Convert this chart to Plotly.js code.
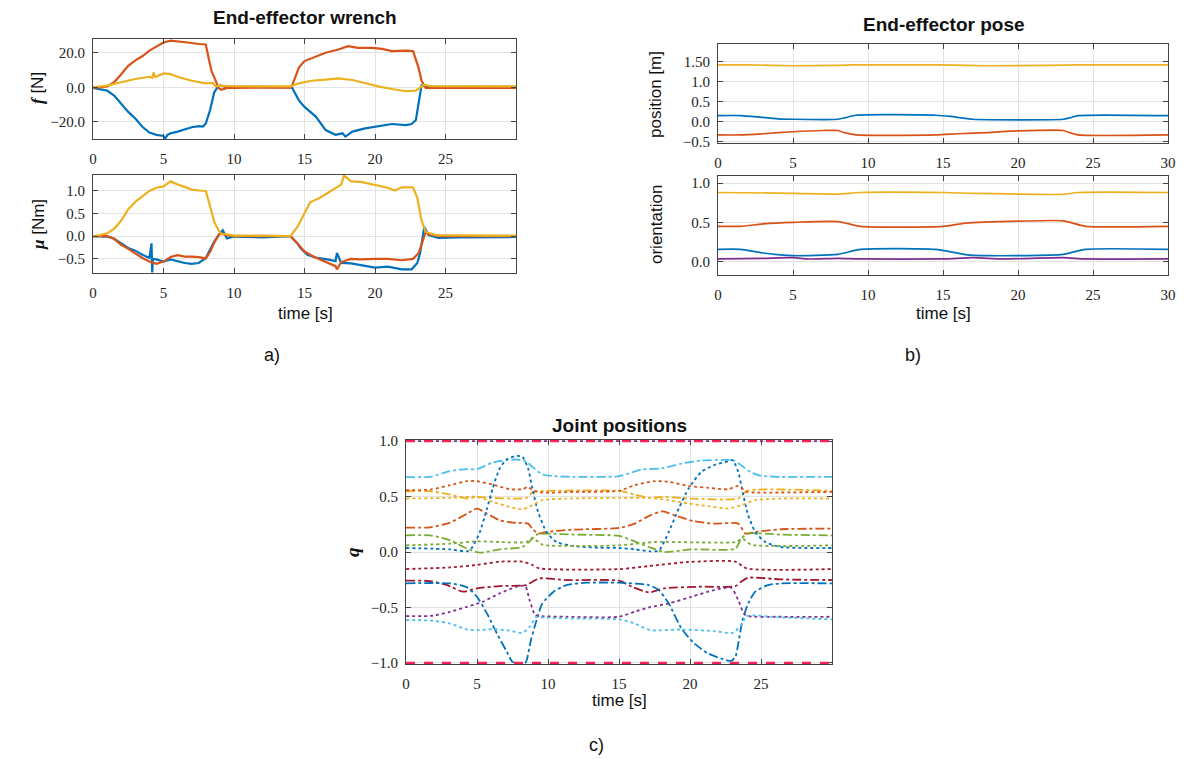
<!DOCTYPE html>
<html><head><meta charset="utf-8">
<script src="https://cdn.plot.ly/plotly-3.0.1.min.js"></script>
<style>html,body{margin:0;padding:0;background:#fff}#chart{width:1189px;height:759px}</style>
</head><body><div id="chart"></div>
<script>
// ---------- Panel a: end-effector force f [N] ----------
const fBlueT = [0,0.5,1,1.5,2,2.5,3,3.5,4,4.5,5,5.1,5.3,5.5,6,6.5,7,7.5,7.8,8,8.3,8.6,8.8,9,9.5,10,12,14,14.1,14.6,15,15.8,16.5,17.2,17.7,17.9,18.4,19.3,20.3,21.2,22.2,22.6,22.9,23.1,23.2,23.3,23.6,24,26,28,30];
const fBlue  = [-0.4,-1,-1.9,-4.8,-9.5,-14.3,-18.1,-22.9,-26.3,-27.6,-28.2,-30,-27.5,-26.7,-25.7,-24.4,-23.2,-22.5,-22.8,-21,-13.3,-2.9,-0.4,1,0.2,0.3,0.3,0.2,0,-7.6,-11.4,-17,-24.8,-27.6,-26.7,-28.6,-25.7,-23.8,-22.5,-21.3,-21.9,-21.3,-19,-7.6,-2.9,1,0.8,0.4,0.3,0.3,0.3];
const fOrangeT = [0,0.5,1,1.5,2,2.5,3,3.5,4,4.5,5,5.5,6,6.5,7,7.5,8,8.2,8.4,8.7,8.9,9.1,9.5,10,12,14,14.1,14.6,15,15.8,16.5,17.4,18.1,18.8,19.8,20.5,21.2,22.2,22.7,23.1,23.3,23.6,24,26,28,30];
const fOrange  = [0,0,0.5,2.9,7.6,12.4,15.6,18,21.3,23.8,26,27,26.7,26.3,25.7,25.1,24.8,17,9.5,3.8,-0.4,-1.5,-0.4,-0.3,-0.3,-0.2,0.5,11.4,15.2,18,20,21.9,23.8,22.9,22.9,22.3,21,21.3,21,11,3.8,-0.4,-0.3,-0.3,-0.3,-0.3];
const fYellowT = [0,1,2,3,4,4.2,4.3,4.4,5,5.5,6,7,8,8.5,8.7,9,10,12,14,14.6,15.5,16.5,17.4,18.4,19.3,20.3,21.2,22.2,22.9,23.3,23.5,24,26,28,30];
const fYellow  = [0,1,2.9,4.8,6.1,5.5,8.6,6,8,7.6,6.1,3.8,2.3,2.5,0.5,1,0.6,0.6,0.5,2.3,3.8,4.4,5.1,4.2,2.3,0.4,-1,-2.3,-1.9,0.5,1.5,0.6,0.5,0.5,0.5];

// ---------- Panel a: end-effector moment mu [Nm] ----------
const mYellowT = [0,0.5,1,1.5,2,2.5,3,3.5,4,4.5,5,5.5,6,6.5,7,7.5,8,8.3,8.6,8.9,9.1,9.5,10,12,14,14.5,15,15.4,16.1,16.9,17.6,17.8,18.3,19,20,20.9,21.4,21.9,22.7,23,23.3,23.6,24.3,26,28,30];
const mYellow  = [0,0.02,0.06,0.16,0.34,0.59,0.75,0.88,0.99,1.06,1.09,1.2,1.13,1.08,1.02,1.0,0.99,0.66,0.31,0.13,0.05,0.04,0.01,0.01,0,0.2,0.52,0.74,0.84,0.99,1.13,1.33,1.2,1.19,1.13,1.06,1.0,1.07,1.07,0.84,0.34,0.09,0.02,0.01,0.01,0.01];
const mBlueT = [0,1,1.5,2,2.5,3,3.5,4,4.15,4.2,4.25,4.5,5,5.5,6,6.5,7,7.5,8,8.3,8.6,8.9,9.2,9.5,10,12,14,14.5,14.7,15.2,15.9,16.6,17.2,17.3,17.6,18.3,19,20,20.9,21.9,22.6,23,23.2,23.3,23.5,23.8,24.5,26,28,30];
const mBlue  = [0,-0.01,-0.06,-0.16,-0.26,-0.32,-0.41,-0.48,-0.16,-0.8,-0.5,-0.51,-0.56,-0.51,-0.55,-0.59,-0.61,-0.59,-0.48,-0.3,-0.12,0.02,0.13,-0.05,-0.01,-0.03,0,-0.16,-0.26,-0.41,-0.48,-0.51,-0.55,-0.37,-0.59,-0.6,-0.64,-0.69,-0.67,-0.73,-0.73,-0.59,-0.37,-0.16,0.2,0.02,-0.04,-0.03,-0.02,-0.02];
const mOrangeT = [0,1,1.5,2,2.5,3,3.5,4,4.5,5,5.5,6,6.5,7,7.5,8,8.3,8.6,8.8,9,9.5,10,12,14,14.5,15,15.7,16.4,17.2,17.3,17.6,18.3,19,20,20.9,21.9,22.7,23.1,23.3,23.6,23.8,24.5,26,28,30];
const mOrange  = [0,0,-0.06,-0.19,-0.28,-0.39,-0.48,-0.56,-0.61,-0.56,-0.46,-0.42,-0.45,-0.45,-0.46,-0.49,-0.35,-0.14,-0.05,0.06,0.02,0,0,0,-0.16,-0.34,-0.46,-0.55,-0.66,-0.73,-0.57,-0.5,-0.51,-0.5,-0.5,-0.53,-0.5,-0.37,-0.19,0.09,0.04,0,0,0,0];

// ---------- Panel b: position [m] ----------
const pYellowT = [0,2,5,8,9,15,18,22,24,30];
const pYellow  = [1.41,1.41,1.39,1.40,1.41,1.41,1.39,1.40,1.41,1.41];
const pBlueT = [0,1.5,4,5,8,8.5,9.2,14.5,15.5,17,23,23.5,24,30];
const pBlue  = [0.15,0.15,0.07,0.06,0.06,0.10,0.16,0.16,0.13,0.06,0.06,0.10,0.15,0.15];
const pOrangeT = [0,1.5,3,5,7,8,8.5,9.2,14.5,16,18,20,23,23.5,24,30];
const pOrange  = [-0.33,-0.33,-0.30,-0.25,-0.22,-0.22,-0.28,-0.33,-0.33,-0.30,-0.27,-0.23,-0.22,-0.28,-0.33,-0.33];

// ---------- Panel b: orientation ----------
const oYellowT = [0,5,8,9.5,15,17,20,23,24,30];
const oYellow  = [0.88,0.87,0.86,0.88,0.88,0.87,0.86,0.856,0.88,0.88];
const oOrangeT = [0,1.5,3,5,8,9.5,15,16.5,20,23,24.5,30];
const oOrange  = [0.45,0.45,0.48,0.50,0.51,0.45,0.45,0.49,0.515,0.52,0.45,0.45];
const oBlueT = [0,1.5,3,5,8,9.5,14.5,16.5,18,23,24.5,30];
const oBlue  = [0.156,0.156,0.11,0.076,0.093,0.156,0.156,0.09,0.076,0.093,0.156,0.156];
const oPurpleT = [0,3,5,6,8,9.5,15,17,19,23,24.5,30];
const oPurple  = [0.034,0.042,0.05,0.034,0.042,0.034,0.034,0.05,0.034,0.05,0.034,0.034];

// ---------- Panel c: joint positions q (dash-dot arm) ----------
const qLightBlueDdT = [0,1.7,3.1,4.3,5,6.1,7.1,7.8,8.5,8.9,9.6,10.4,11.8,15,16.6,18,19.4,20.8,22.2,23,23.6,24.3,25,26.4,30];
const qLightBlueDd  = [0.678,0.678,0.73,0.747,0.747,0.807,0.828,0.834,0.813,0.768,0.70,0.684,0.678,0.684,0.744,0.753,0.798,0.825,0.831,0.828,0.783,0.717,0.687,0.678,0.678];
const qYellowDdT = [0,1.7,3.1,4.3,5,6.1,7.5,8.5,8.9,9.4,15,16.1,17.1,18,20.1,23.4,24,30];
const qYellowDd  = [0.548,0.548,0.518,0.482,0.497,0.488,0.482,0.488,0.536,0.548,0.551,0.518,0.488,0.497,0.482,0.482,0.551,0.551];
const qOrangeDdT = [0,1.7,3.1,4.3,5,5.7,6.6,7.5,8.6,8.9,9.3,9.9,11.8,15,16.1,17.2,18.1,18.9,20.3,21.7,23.4,23.9,24.6,26.4,30];
const qOrangeDd  = [0.22,0.223,0.265,0.346,0.392,0.346,0.286,0.265,0.256,0.211,0.166,0.181,0.202,0.217,0.256,0.331,0.367,0.331,0.277,0.256,0.256,0.166,0.181,0.205,0.211];
const qGreenDdT = [0,1.7,3.1,4.3,5.2,6.6,8.2,8.7,9.2,9.9,11.8,15,16.1,17.1,18.2,20.1,23.2,23.6,24.1,26.4,30];
const qGreenDd  = [0.15,0.15,0.105,0.03,-0.006,0.024,0.045,0.096,0.157,0.166,0.157,0.145,0.096,0.045,0.0,0.024,0.03,0.12,0.166,0.157,0.15];
const qDarkRedDdT = [0,1.7,2.9,4,5,6.6,8.5,8.9,9.4,11.3,15,15.9,17.1,18.2,20.6,23.2,23.6,24.1,26.4,30];
const qDarkRedDd  = [-0.259,-0.262,-0.298,-0.358,-0.328,-0.307,-0.298,-0.268,-0.238,-0.253,-0.259,-0.313,-0.364,-0.328,-0.313,-0.307,-0.268,-0.232,-0.247,-0.253];
const qBlueDdT = [0,3.1,4.3,5,5.7,6.4,7.1,7.5,7.8,8.4,8.5,8.8,9.2,9.6,10.4,11.3,12.7,15,17.1,17.8,18.5,19.4,20.3,21.3,22.2,22.9,23.2,23.4,23.7,24.1,24.6,25.5,26.4,30];
const qBlueDd  = [-0.283,-0.283,-0.319,-0.404,-0.554,-0.735,-0.90,-0.991,-1.0,-1.0,-0.976,-0.795,-0.614,-0.464,-0.358,-0.298,-0.277,-0.277,-0.298,-0.343,-0.464,-0.69,-0.825,-0.916,-0.961,-0.982,-0.946,-0.825,-0.614,-0.464,-0.358,-0.298,-0.283,-0.283];
const qPurpleDdT = [0,30];
const qPurpleDd  = [1.0,1.0];

// ---------- Panel c: joint positions q (dotted arm) ----------
const qBlueDtT = [0,3.1,4.3,4.6,5.2,5.7,6.1,6.6,7.1,7.8,8.2,8.6,8.9,9.3,9.9,10.6,11.8,13.6,15,16.1,17.2,17.8,18.5,19.2,19.9,20.8,21.7,22.7,23,23.4,23.7,24.1,24.6,25.3,26.4,30];
const qBlueDt  = [0.036,0.024,0.006,0.03,0.18,0.39,0.572,0.753,0.837,0.867,0.858,0.753,0.572,0.361,0.18,0.09,0.054,0.039,0.036,0.024,0.006,0.012,0.18,0.39,0.572,0.723,0.783,0.819,0.828,0.723,0.542,0.331,0.18,0.09,0.045,0.036];
const qOrangeDtT = [0,1.7,3.1,4.3,5,6.1,7.3,8.2,8.6,8.9,9.6,11.8,15,16.1,17.5,18.5,19.9,21.3,22.7,23.4,24,24.6,30];
const qOrangeDt  = [0.557,0.563,0.602,0.639,0.639,0.608,0.566,0.566,0.587,0.557,0.536,0.542,0.552,0.602,0.639,0.633,0.596,0.578,0.566,0.596,0.542,0.536,0.542];
const qYellowDtT = [0,3.1,5,6.1,7.3,8.2,8.9,9.6,11.3,15,17.1,18.5,19.9,21.3,22.7,23.6,24.6,26.4,30];
const qYellowDt  = [0.482,0.488,0.497,0.452,0.407,0.386,0.422,0.467,0.482,0.488,0.488,0.467,0.437,0.413,0.392,0.422,0.467,0.482,0.482];
const qGreenDtT = [0,3.1,5,6.6,8.5,8.9,9.6,11.8,15,17.5,23.2,23.7,24.3,26.4,30];
const qGreenDt  = [0.06,0.075,0.096,0.09,0.09,0.127,0.066,0.054,0.06,0.09,0.09,0.12,0.066,0.054,0.06];
const qDarkRedDtT = [0,3.1,5,6.6,8.2,8.9,9.4,15,17.1,19.9,23.2,24,30];
const qDarkRedDt  = [-0.154,-0.139,-0.117,-0.087,-0.087,-0.117,-0.148,-0.154,-0.127,-0.09,-0.087,-0.148,-0.154];
const qPurpleDtT = [0,1.9,3.1,4.3,5.4,6.6,7.8,8.4,8.7,9.1,9.4,11.3,15,16.1,17.1,18.5,20.1,21.7,22.9,23.4,23.9,26.4,30];
const qPurpleDt  = [-0.578,-0.575,-0.539,-0.494,-0.449,-0.373,-0.313,-0.307,-0.434,-0.569,-0.578,-0.584,-0.584,-0.539,-0.50,-0.464,-0.404,-0.343,-0.322,-0.434,-0.569,-0.584,-0.584];
const qLightBlueDtT = [0,1.9,3.1,4.3,5,6.1,7.3,8.2,8.7,9.2,9.6,11.3,15,16.1,17.2,19.4,21.7,23,23.6,24,26.4,30];
const qLightBlueDt  = [-0.614,-0.62,-0.645,-0.699,-0.705,-0.696,-0.71,-0.729,-0.675,-0.584,-0.59,-0.599,-0.608,-0.645,-0.705,-0.699,-0.714,-0.729,-0.66,-0.578,-0.59,-0.608];
const qLimitT = [0,30];
const qLimitUp = [1,1];
const qLimitLo = [-1,-1];

// ---------- tick labels ----------
const xTicksA = [0,5,10,15,20,25];
const xTicksB = [0,5,10,15,20,25,30];
const fTicks = [-20,0,20];       const fTickText = ['−20.0','0.0','20.0'];
const muTicks = [-0.5,0,0.5,1];  const muTickText = ['−0.5','0.0','0.5','1.0'];
const posTicks = [-0.5,0,0.5,1,1.5]; const posTickText = ['−0.5','0.0','0.5','1.0','1.50'];
const oriTicks = [0,0.5,1];      const oriTickText = ['0.0','0.5','1.0'];
const qTicks = [-1,-0.5,0,0.5,1]; const qTickText = ['−1.0','−0.5','0.0','0.5','1.0'];

// ---------- styling ----------
const C = {blue:'#0072BD', orange:'#D95319', yellow:'#EDB120', purple:'#7E2F8E', green:'#77AC30', lblue:'#4DBEEE', dred:'#A2142F', pink:'#FF1F5B'};
const W = 1189, H = 759;
const SANS = 'Liberation Sans, Arial, sans-serif';
const SERIF = '"Liberation Serif", "Times New Roman", serif';

function line(x, y, color, xa, ya, width, dash, shape) {
  return {x:x, y:y, type:'scatter', mode:'lines', xaxis:xa, yaxis:ya, hoverinfo:'skip',
    line:{color:color, width:width||1.6, dash:dash||'solid', shape:shape||'linear', smoothing:0.6}};
}
function xAx(l, r, range, tv, anchor, layer) {
  return {domain:[l/W, r/W], range:range, tickvals:tv, ticktext:tv.map(String), anchor:anchor,
    showline:true, mirror:'ticks', ticks:'inside', ticklen:5, tickcolor:'#444', linecolor:'#444', linewidth:1,
    showgrid:true, gridcolor:'#e3e3e3', gridwidth:1, zeroline:false, ticklabelstandoff:6, layer:layer||'above traces',
    tickfont:{family:SERIF, size:15, color:'#222'}};
}
function yAx(t, b, range, tv, tt, anchor, layer) {
  return {domain:[1-b/H, 1-t/H], range:range, tickvals:tv, ticktext:tt, anchor:anchor,
    showline:true, mirror:'ticks', ticks:'inside', ticklen:5, tickcolor:'#444', linecolor:'#444', linewidth:1,
    showgrid:true, gridcolor:'#e3e3e3', gridwidth:1, zeroline:false, ticklabelstandoff:4, layer:layer||'above traces',
    tickfont:{family:SERIF, size:15, color:'#222'}};
}

const traces = [
  line(fBlueT, fBlue, C.blue, 'x', 'y', 2.2),
  line(fOrangeT, fOrange, C.orange, 'x', 'y', 2.2),
  line(fYellowT, fYellow, C.yellow, 'x', 'y', 2.2),
  line(mBlueT, mBlue, C.blue, 'x2', 'y2', 2.2),
  line(mOrangeT, mOrange, C.orange, 'x2', 'y2', 2.2),
  line(mYellowT, mYellow, C.yellow, 'x2', 'y2', 2.2),
  line(pYellowT, pYellow, C.yellow, 'x3', 'y3', 1.7, 'solid', 'spline'),
  line(pBlueT, pBlue, C.blue, 'x3', 'y3', 1.7, 'solid', 'spline'),
  line(pOrangeT, pOrange, C.orange, 'x3', 'y3', 1.7, 'solid', 'spline'),
  line(oYellowT, oYellow, C.yellow, 'x4', 'y4', 1.7, 'solid', 'spline'),
  line(oOrangeT, oOrange, C.orange, 'x4', 'y4', 1.7, 'solid', 'spline'),
  line(oBlueT, oBlue, C.blue, 'x4', 'y4', 1.7, 'solid', 'spline'),
  line(oPurpleT, oPurple, C.purple, 'x4', 'y4', 1.7, 'solid', 'spline'),
  line(qLightBlueDdT, qLightBlueDd, C.lblue, 'x5', 'y5', 1.8, 'dashdot', 'spline'),
  line(qYellowDdT, qYellowDd, C.yellow, 'x5', 'y5', 1.8, 'dashdot', 'spline'),
  line(qOrangeDdT, qOrangeDd, C.orange, 'x5', 'y5', 1.8, 'dashdot', 'spline'),
  line(qGreenDdT, qGreenDd, C.green, 'x5', 'y5', 1.8, 'dashdot', 'spline'),
  line(qDarkRedDdT, qDarkRedDd, C.dred, 'x5', 'y5', 1.8, 'dashdot', 'spline'),
  line(qBlueDdT, qBlueDd, C.blue, 'x5', 'y5', 1.8, 'dashdot', 'spline'),
  line(qPurpleDdT, qPurpleDd, C.purple, 'x5', 'y5', 1.8, 'dashdot'),
  line(qBlueDtT, qBlueDt, C.blue, 'x5', 'y5', 1.8, 'dot', 'spline'),
  line(qOrangeDtT, qOrangeDt, C.orange, 'x5', 'y5', 1.8, 'dot', 'spline'),
  line(qYellowDtT, qYellowDt, C.yellow, 'x5', 'y5', 1.8, 'dot', 'spline'),
  line(qGreenDtT, qGreenDt, C.green, 'x5', 'y5', 1.8, 'dot', 'spline'),
  line(qDarkRedDtT, qDarkRedDt, C.dred, 'x5', 'y5', 1.8, 'dot', 'spline'),
  line(qPurpleDtT, qPurpleDt, C.purple, 'x5', 'y5', 1.8, 'dot', 'spline'),
  line(qLightBlueDtT, qLightBlueDt, C.lblue, 'x5', 'y5', 1.8, 'dot', 'spline'),
  line(qLimitT, qLimitUp, C.pink, 'x5', 'y5', 2.4, 'dash'),
  line(qLimitT, qLimitLo, C.pink, 'x5', 'y5', 2.4, 'dash')
];

function ann(text, px, py, size, opts) {
  return Object.assign({text:text, xref:'paper', yref:'paper', x:px/W, y:1-py/H, xanchor:'center', yanchor:'middle',
    showarrow:false, font:{family:SANS, size:size, color:'#111'}}, opts||{});
}

const layout = {
  width:W, height:H, margin:{l:0, r:0, t:0, b:0}, showlegend:false,
  paper_bgcolor:'#fff', plot_bgcolor:'#fff',
  xaxis:  xAx(93, 516, [0,30], xTicksA, 'y'),
  yaxis:  yAx(39, 139, [-30,28], fTicks, fTickText, 'x'),
  xaxis2: xAx(93, 516, [0,30], xTicksA, 'y2'),
  yaxis2: yAx(175, 273, [-0.81,1.34], muTicks, muTickText, 'x2'),
  xaxis3: xAx(718, 1168, [0,30], xTicksB, 'y3'),
  yaxis3: yAx(44, 143, [-0.53,1.93], posTicks, posTickText, 'x3'),
  xaxis4: xAx(718, 1168, [0,30], xTicksB, 'y4'),
  yaxis4: yAx(176, 275, [-0.17,1.09], oriTicks, oriTickText, 'x4'),
  xaxis5: xAx(406, 832, [0,30], xTicksA, 'y5', 'below traces'),
  yaxis5: yAx(440, 664, [-1.01,1.01], qTicks, qTickText, 'x5', 'below traces'),
  annotations: [
    ann('<b>End-effector wrench</b>', 305, 18, 19),
    ann('<b>End-effector pose</b>', 944, 24, 19),
    ann('<b>Joint positions</b>', 619, 425, 19),
    ann('<span style="font-family:Liberation Serif"><b><i>f</i></b></span> [N]', 38, 88, 17, {textangle:-90}),
    ann('<span style="font-family:Liberation Serif"><b><i>μ</i></b></span> [Nm]', 38, 225, 17, {textangle:-90}),
    ann('position [m]', 656, 95, 17, {textangle:-90}),
    ann('orientation', 656, 225, 17, {textangle:-90}),
    ann('<span style="font-family:Liberation Serif"><b><i>q</i></b></span>', 352, 552, 19, {textangle:-90}),
    ann('time [s]', 305, 313, 17),
    ann('time [s]', 943, 313, 17),
    ann('time [s]', 619, 700, 17),
    ann('a)', 272, 355, 18),
    ann('b)', 913, 355, 18),
    ann('c)', 596, 745, 18)
  ]
};

Plotly.newPlot('chart', traces, layout, {staticPlot:true, displayModeBar:false});
</script>
</body></html>
